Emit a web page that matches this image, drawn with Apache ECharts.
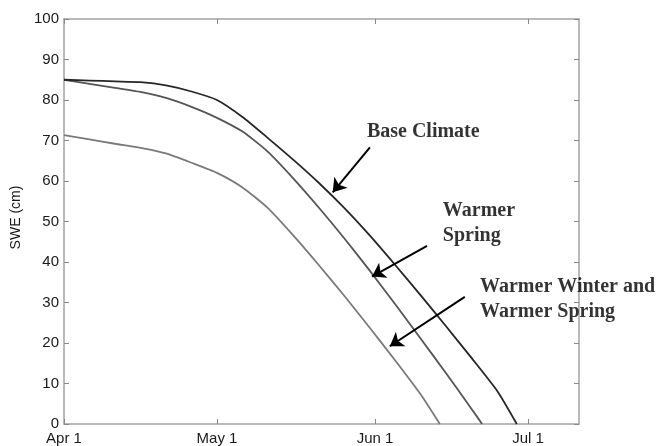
<!DOCTYPE html>
<html><head><meta charset="utf-8">
<script src="https://cdn.jsdelivr.net/npm/echarts@6/dist/echarts.min.js"></script>
<style>html,body{margin:0;padding:0;background:#fff}#c{width:667px;height:446px}</style>
</head><body><div id="c"></div>
<script>
// x = days since Apr 1
const tickDays = [0, 30, 61, 91];
const tickLabels = ['Apr 1', 'May 1', 'Jun 1', 'Jul 1'];

const baseDays   = [0, 5, 10, 15, 20, 25, 30, 35, 40, 45, 50, 55, 60, 65, 70, 75, 80, 85, 88.8];
const baseValues = [85, 84.8, 84.6, 84.4, 83.6, 82.1, 80, 75.8, 70.6, 65.2, 59.5, 53.3, 46.5, 39.2, 31.7, 24, 16.2, 8.1, 0];

const springDays   = [0, 5, 10, 15, 20, 25, 30, 35, 40, 45, 50, 55, 60, 65, 70, 75, 80, 82];
const springValues = [85, 84, 83, 82, 80.5, 78.3, 75.6, 72.2, 67.2, 60.6, 53.4, 45.8, 37.8, 29.5, 21, 12.4, 3.6, 0];

const winterDays   = [0, 5, 10, 15, 20, 25, 30, 35, 40, 45, 50, 55, 60, 65, 70, 73.7];
const winterValues = [71.3, 70.3, 69.2, 68.2, 66.8, 64.5, 62, 58.4, 53.3, 46.5, 39.2, 31.6, 23.7, 15.6, 7.2, 0];

const labelTexts = ['Base Climate', 'Warmer\nSpring', 'Warmer Winter and\nWarmer Spring'];
const labelPos   = [[59.4, 72.2], [74.3, 49.5], [81.6, 30.8]];
const arrowTails = [[60.0, 68.3], [71.2, 44.0], [78.6, 31.4]];
const arrowTips  = [[52.7, 57.2], [60.4, 36.4], [63.9, 19.2]];

const pairs = (d, v) => d.map((x, i) => [x, v[i]]);
const axisCol = '#a3a3a3';

const chart = echarts.init(document.getElementById('c'), null, {renderer: 'canvas'});
const xCommon = {
  type: 'value', min: 0, max: 101,
  axisLine: {show: true, onZero: false, lineStyle: {color: axisCol, width: 1.5}},
  axisTick: {show: true, inside: true, length: 5, customValues: tickDays, lineStyle: {color: '#888'}},
  splitLine: {show: false}
};
const yCommon = {
  type: 'value', min: 0, max: 100, interval: 10,
  axisLine: {show: true, onZero: false, lineStyle: {color: axisCol, width: 1.5}},
  axisTick: {show: true, inside: true, length: 5, lineStyle: {color: '#888'}},
  splitLine: {show: false}
};
const lineCommon = {type: 'line', showSymbol: false, smooth: 0.2};
chart.setOption({
  animation: false,
  backgroundColor: '#fff',
  grid: {left: 64, right: 88, top: 19, bottom: 20, containLabel: false},
  xAxis: [
    Object.assign({}, xCommon, {position: 'bottom',
      axisLabel: {show: true, customValues: tickDays, margin: 7, color: '#1a1a1a',
        fontFamily: 'Liberation Sans, Arial, sans-serif', fontSize: 15,
        formatter: v => tickLabels[tickDays.indexOf(v)]}}),
    Object.assign({}, xCommon, {position: 'top', axisLabel: {show: false}})
  ],
  yAxis: [
    Object.assign({}, yCommon, {position: 'left',
      name: 'SWE (cm)', nameLocation: 'middle', nameGap: 41,
      nameTextStyle: {color: '#1a1a1a', fontFamily: 'Liberation Sans, Arial, sans-serif', fontSize: 14,
        padding: [0, 0, 0, 8]},
      axisLabel: {show: true, margin: 5, color: '#1a1a1a',
        fontFamily: 'Liberation Sans, Arial, sans-serif', fontSize: 15}}),
    Object.assign({}, yCommon, {position: 'right', axisLabel: {show: false}})
  ],
  series: [
    Object.assign({name: 'Warmer Winter and Warmer Spring', data: pairs(winterDays, winterValues),
      lineStyle: {color: '#7a7a7a', width: 1.8}}, lineCommon),
    Object.assign({name: 'Warmer Spring', data: pairs(springDays, springValues),
      lineStyle: {color: '#555', width: 1.8}}, lineCommon),
    Object.assign({name: 'Base Climate', data: pairs(baseDays, baseValues),
      lineStyle: {color: '#262626', width: 1.8}}, lineCommon),
    {name: 'annotations', type: 'scatter', symbolSize: 0, silent: true,
      itemStyle: {color: '#000'},
      data: labelPos.map((p, i) => ({value: p, name: labelTexts[i]})),
      label: {show: true, position: 'right', distance: 0, align: 'left', verticalAlign: 'middle',
        formatter: p => p.name, color: '#000', textBorderWidth: 0,
        fontFamily: 'Liberation Serif, Times New Roman, serif',
        fontWeight: 'bold', fontSize: 20, lineHeight: 25},
      markLine: {silent: true, symbol: ['none', 'arrow'], symbolSize: 13, animation: false,
        label: {show: false},
        lineStyle: {color: '#000', width: 2, type: 'solid'},
        data: arrowTails.map((t, i) => [{coord: t}, {coord: arrowTips[i]}])}
    }
  ]
});
</script></body></html>
